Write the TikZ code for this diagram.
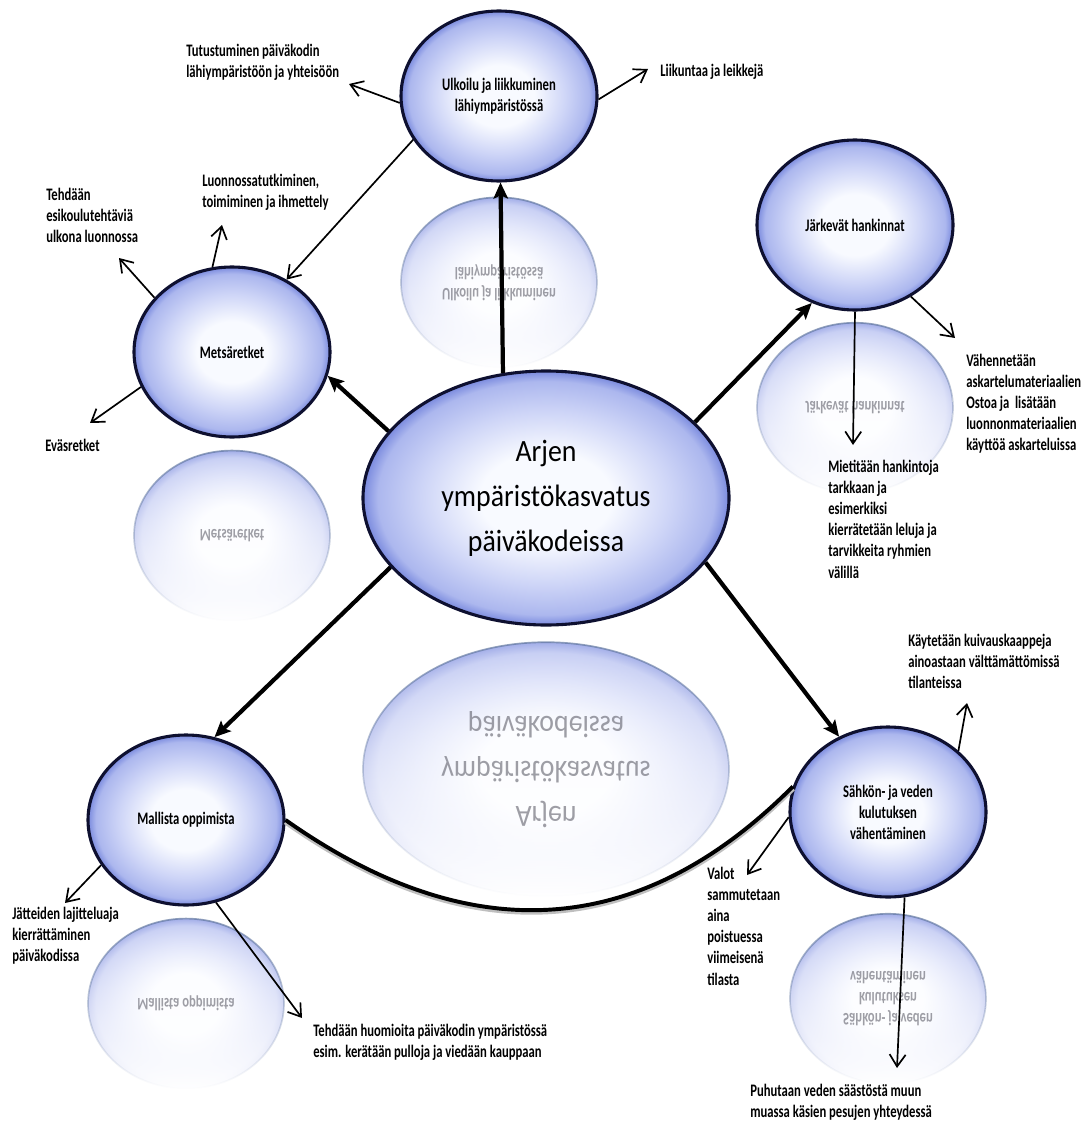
\documentclass[tikz,border=0pt]{standalone}
\usepackage{fontspec}
\setmainfont{Carlito}
\newfontfamily\lblfont[FakeStretch=0.72]{Carlito}
\newfontfamily\hubfont[FakeStretch=0.9]{Carlito}
\usetikzlibrary{arrows.meta, positioning, shapes.geometric, fadings}

\definecolor{bubbleedge}{RGB}{122,138,222}
\definecolor{bubblerim}{RGB}{172,183,238}
\definecolor{bubblemid}{RGB}{206,213,247}
\definecolor{bubblecore}{RGB}{248,250,255}
\definecolor{bubbleline}{RGB}{14,16,48}
\definecolor{mirrorline}{RGB}{96,118,158}
\definecolor{mirrortext}{RGB}{80,80,92}

\pgfdeclareradialshading{bubble}{\pgfpoint{0bp}{0bp}}{%
  color(0bp)=(bubblecore); color(9bp)=(bubblecore); color(17bp)=(bubblemid);
  color(23bp)=(bubblerim); color(25bp)=(bubbleedge); color(50bp)=(bubbleedge)}
\tikzfading[name=mirrorfade, top color=transparent!30, middle color=transparent!55, bottom color=transparent!100]

\begin{document}
\begin{tikzpicture}[x=0.25mm, y=-0.25mm,
    bubble/.style={ellipse, draw=bubbleline, line width=2.2pt, shade, shading=bubble,
        minimum width=49mm, minimum height=42.5mm, inner sep=1pt, align=center,
        font=\lblfont\bfseries\fontsize{12.5}{15}\selectfont},
    hub/.style={bubble, minimum width=91.5mm, minimum height=63.5mm,
        font=\hubfont\fontsize{22}{32}\selectfont},
    mirror/.style={ellipse, draw=mirrorline, line width=1.2pt, shade, shading=bubble,
        path fading=mirrorfade, minimum width=49mm, minimum height=42.5mm},
    mirrortxt/.style={yscale=-1, transform shape, align=center, inner sep=0pt,
        text=mirrortext, text opacity=0.55, font=\lblfont\bfseries\fontsize{12.5}{15}\selectfont},
    note/.style={anchor=north west, inner sep=0pt, align=left,
        font=\lblfont\bfseries\fontsize{12.5}{15}\selectfont},
    spoke/.style={-{Stealth[length=4mm, width=3.6mm, inset=0.8mm]}, line width=3pt},
    twig/.style={-{Straight Barb[length=3mm, width=4mm]}, line width=1.2pt},
    ]
    \useasboundingbox (0,0) rectangle (1088,1122);

    % bubbles (hub in the middle, five topics round it)
    \node[hub] (cent) at (546,498) {Arjen\\ympäristökasvatus\\päiväkodeissa};
    \node[bubble] (ulko) at (499,96) {Ulkoilu ja liikkuminen\\lähiympäristössä};
    \node[bubble] (metsa) at (232,352) {Metsäretket};
    \node[bubble] (jarke) at (855,225) {Järkevät hankinnat};
    \node[bubble] (malli) at (186,820) {Mallista oppimista};
    \node[bubble] (sahko) at (888,812) {Sähkön- ja veden\\kulutuksen\\vähentäminen};

    % mirrored copies below each bubble
    \node[mirror, minimum width=91.5mm, minimum height=63.5mm, below=3.7mm of cent] (centm) {};
    \node[mirror, below=3.5mm of ulko] (ulkom) {};
    \node[mirror, below=2.8mm of metsa] (metsam) {};
    \node[mirror, below=2.6mm of jarke] (jarkem) {};
    \node[mirror, below=2.8mm of malli] (mallim) {};
    \node[mirror, below=3.6mm of sahko] (sahkom) {};
    \node[mirrortxt, font=\hubfont\fontsize{22}{32}\selectfont] at (centm) {Arjen\\ympäristökasvatus\\päiväkodeissa};
    \node[mirrortxt] at (ulkom) {Ulkoilu ja liikkuminen\\lähiympäristössä};
    \node[mirrortxt] at (metsam) {Metsäretket};
    \node[mirrortxt] at (jarkem) {Järkevät hankinnat};
    \node[mirrortxt] at (mallim) {Mallista oppimista};
    \node[mirrortxt] at (sahkom) {Sähkön- ja veden\\kulutuksen\\vähentäminen};

    % notes
    \node[note] (tutu) at (186,44) {Tutustuminen päiväkodin\\lähiympäristöön ja yhteisöön};
    \node[note] (liik) at (660,64) {Liikuntaa ja leikkejä};
    \node[note] (luon) at (202,174) {Luonnossatutkiminen,\\toimiminen ja ihmettely};
    \node[note] (tehd) at (46,188) {Tehdään\\esikoulutehtäviä\\ulkona luonnossa};
    \node[note] (evas) at (45,439) {Eväsretket};
    \node[note] (mieti) at (828,460) {Mietitään hankintoja\\tarkkaan ja\\esimerkiksi\\kierrätetään leluja ja\\tarvikkeita ryhmien\\välillä};
    \node[note] (vahen) at (966,354) {Vähennetään\\askartelumateriaalien\\Ostoa ja~ lisätään\\luonnonmateriaalien\\käyttöä askarteluissa};
    \node[note] (jatt) at (12,907) {Jätteiden lajitteluaja\\kierrättäminen\\päiväkodissa};
    \node[note] (huom) at (313,1024) {Tehdään huomioita päiväkodin ympäristössä\\esim. kerätään pulloja ja viedään kauppaan};
    \node[note] (kayt) at (908,634) {Käytetään kuivauskaappeja\\ainoastaan välttämättömissä\\tilanteissa};
    \node[note] (valot) at (707,867) {Valot\\sammutetaan\\aina\\poistuessa\\viimeisenä\\tilasta};
    \node[note] (puhu) at (750,1084) {Puhutaan veden säästöstä muun\\muassa käsien pesujen yhteydessä};

    % arrow tips next to the notes
    \coordinate (t-tutu) at (349,84);
    \coordinate (t-liik) at (648,69);
    \coordinate (t-luon) at (222,225);
    \coordinate (t-tehd) at (119,258);
    \coordinate (t-evas) at (90,423);
    \coordinate (t-mieti) at (853,445);
    \coordinate (t-vahen) at (955,338);
    \coordinate (t-jatt) at (65,903);
    \coordinate (t-huom) at (302,1018);
    \coordinate (t-kayt) at (967,703);
    \coordinate (t-valot) at (747,875);
    \coordinate (t-puhu) at (897,1068);

    % hub -> topics
    \draw[spoke] (cent.109) -- (ulko.271);
    \draw[spoke] (cent.157) -- (metsa.346);
    \draw[spoke] (cent.27) -- (jarke.241);
    \draw[spoke] (cent.204) -- (malli.71);
    \draw[spoke] (cent.338) -- (sahko.123);

    % link between the two lower topics
    \draw[line width=2.8pt, preaction={draw=black!25, line width=4pt, transform canvas={yshift=-1.2pt}}]
        (malli.east) .. controls (470,950) and (640,940) .. (sahko.165);

    % topics -> notes
    \draw[twig] (ulko.184) -- (t-tutu);
    \draw[twig] (ulko.358) -- (t-liik);
    \draw[twig] (ulko.207) -- (metsa.53);
    \draw[twig] (metsa.103) -- (t-luon);
    \draw[twig] (metsa.145) -- (t-tehd);
    \draw[twig] (metsa.201) -- (t-evas);
    \draw[twig] (jarke.270) -- (t-mieti);
    \draw[twig] (jarke.308) -- (t-vahen);
    \draw[twig] (malli.208) -- (t-jatt);
    \draw[twig] (malli.290) -- (t-huom);
    \draw[twig] (sahko.41) -- (t-kayt);
    \draw[twig] (sahko.183) -- (t-valot);
    \draw[twig] (sahko.281) -- (t-puhu);
\end{tikzpicture}
\end{document}
